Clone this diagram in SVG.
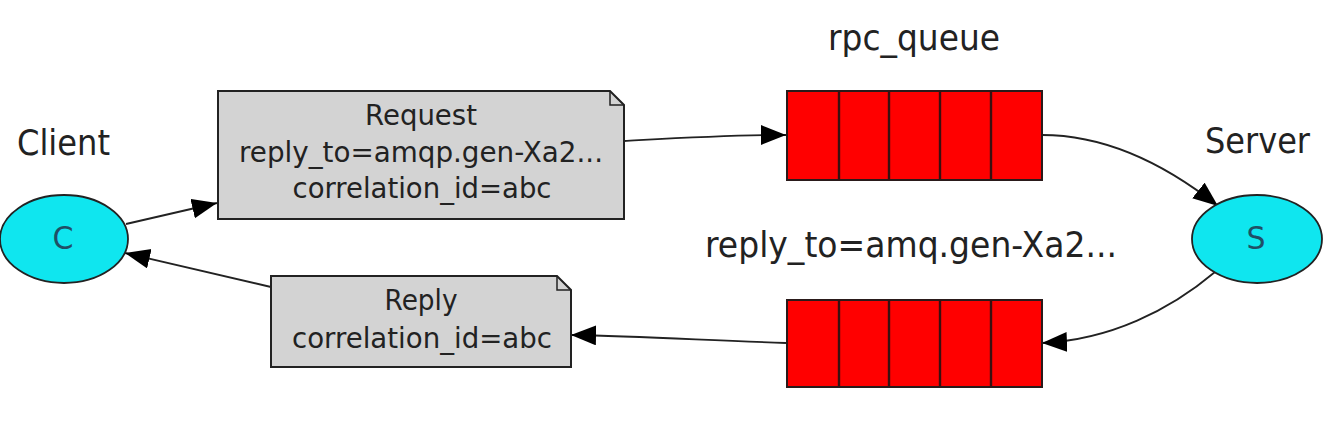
<svg xmlns="http://www.w3.org/2000/svg" width="1338" height="426" viewBox="0 0 1338 426">
<style>
text{font-family:"DejaVu Sans","Liberation Sans",sans-serif;fill:#222;}
.lbl{font-size:35px;}
.box{font-size:29px;}
.note{fill:#d3d3d3;stroke:#222;stroke-width:2;}
.fold{fill:none;stroke:#222;stroke-width:1.5;}
.ell{fill:#0fe6ef;stroke:#222;stroke-width:1.8;}
.eltxt{font-size:32px;fill:#1f4f66;}
.q{fill:#ff0000;stroke:#2a1a1a;stroke-width:2;}
.qd{stroke:#3a1010;stroke-width:2.4;}
.edge{fill:none;stroke:#222;stroke-width:1.8;marker-end:url(#arr);}
</style>
<defs>
<marker id="arr" markerUnits="userSpaceOnUse" markerWidth="28" markerHeight="22" refX="25" refY="10" orient="auto" viewBox="0 0 28 22">
<path d="M0,0 L25,10 L0,20 Z" fill="#000"/>
</marker>
</defs>
<rect width="1338" height="426" fill="#fff"/>

<g id="connectors">
<path class="edge" d="M126,224 L217,203"/>
<path class="edge" d="M624,141 C680,138 730,135 786,135"/>
<path class="edge" d="M1042,135 C1110,135 1170,168 1218,206"/>
<path class="edge" d="M1215,272 C1170,310 1110,340 1042,343"/>
<path class="edge" d="M786,343 C700,340 640,336 571,335"/>
<path class="edge" d="M271,287 L125,253"/>
</g>

<g id="client">
<text class="lbl" x="17" y="155" textLength="93" lengthAdjust="spacingAndGlyphs">Client</text>
<ellipse class="ell" cx="64" cy="239" rx="64" ry="44"/>
<text class="eltxt" x="63" y="249" text-anchor="middle" textLength="21" lengthAdjust="spacingAndGlyphs">C</text>
</g>

<g id="request">
<path class="note" d="M218,91 H610 L624,105 V219 H218 Z"/>
<path class="fold" d="M610,91 V105 H624"/>
<text class="box" x="421" y="125" text-anchor="middle" textLength="112" lengthAdjust="spacingAndGlyphs">Request</text>
<text class="box" x="421" y="162" text-anchor="middle" textLength="364" lengthAdjust="spacingAndGlyphs">reply_to=amqp.gen-Xa2...</text>
<text class="box" x="422" y="198" text-anchor="middle" textLength="259" lengthAdjust="spacingAndGlyphs">correlation_id=abc</text>
</g>

<g id="reply">
<path class="note" d="M271,276 H557 L571,290 V367 H271 Z"/>
<path class="fold" d="M557,276 V290 H571"/>
<text class="box" x="421" y="310" text-anchor="middle" textLength="73" lengthAdjust="spacingAndGlyphs">Reply</text>
<text class="box" x="422" y="348" text-anchor="middle" textLength="260" lengthAdjust="spacingAndGlyphs">correlation_id=abc</text>
</g>

<g id="rpc_queue">
<text class="lbl" x="914" y="50" text-anchor="middle" textLength="172" lengthAdjust="spacingAndGlyphs">rpc_queue</text>
<rect class="q" x="787" y="91" width="255" height="89"/>
<path class="qd" d="M839,91 V180 M889,91 V180 M940,91 V180 M991,91 V180"/>
</g>

<g id="reply_queue">
<text class="lbl" x="911" y="257" text-anchor="middle" textLength="412" lengthAdjust="spacingAndGlyphs">reply_to=amq.gen-Xa2...</text>
<rect class="q" x="787" y="300" width="255" height="87"/>
<path class="qd" d="M839,300 V387 M889,300 V387 M940,300 V387 M991,300 V387"/>
</g>

<g id="server">
<text class="lbl" x="1205" y="153" textLength="105" lengthAdjust="spacingAndGlyphs">Server</text>
<ellipse class="ell" cx="1257" cy="239" rx="65" ry="44"/>
<text class="eltxt" x="1256" y="249" text-anchor="middle" textLength="19" lengthAdjust="spacingAndGlyphs">S</text>
</g>
</svg>
